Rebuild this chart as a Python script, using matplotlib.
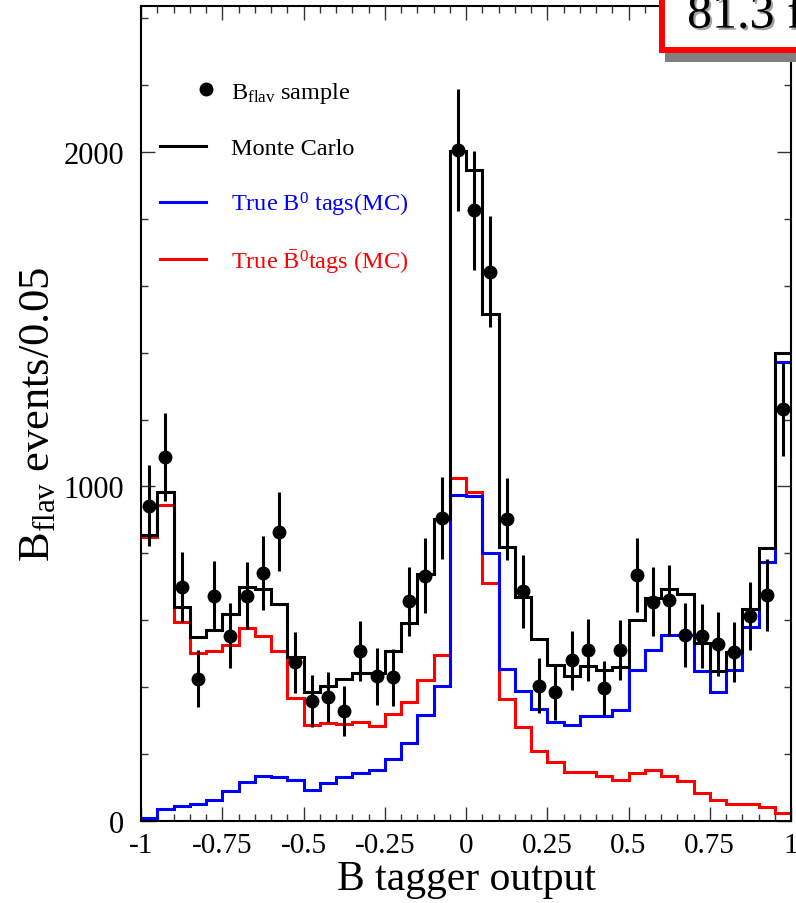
import numpy as np
import matplotlib
matplotlib.use("Agg")
import matplotlib.pyplot as plt
from matplotlib.patches import Rectangle
from matplotlib.ticker import MultipleLocator, FixedLocator, FixedFormatter
from matplotlib import patheffects

# ---------------- data ----------------
bin_width = 0.05
n_bins = 40
x_edges = np.round(-1 + bin_width * np.arange(n_bins + 1), 3)
x_centers = x_edges[:-1] + bin_width / 2

data_counts = [943, 1087, 699, 425, 672, 554, 674, 741, 865, 474,
               358, 370, 328, 507, 433, 430, 657, 733, 906, 2006,
               1826, 1642, 903, 686, 405, 385, 481, 512, 397, 511,
               735, 656, 661, 556, 552, 529, 506, 612, 676, 1230]
data_errors = [122, 132, 105, 85, 105, 97, 100, 110, 118, 90,
               78, 75, 75, 90, 85, 85, 103, 112, 123, 183,
               178, 166, 122, 108, 82, 82, 88, 93, 80, 91,
               110, 103, 104, 97, 96, 96, 90, 102, 107, 140]
mc_total = [855, 983, 639, 549, 571, 619, 699, 694, 649, 489,
            387, 404, 425, 441, 441, 509, 592, 738, 903, 2004,
            1947, 1516, 820, 671, 544, 466, 434, 462, 452, 459,
            601, 666, 694, 679, 532, 449, 504, 634, 815, 1398]
mc_b0 = [9, 36, 46, 51, 64, 91, 116, 135, 133, 123,
         94, 114, 131, 143, 153, 185, 232, 317, 404, 975,
         970, 801, 454, 388, 335, 295, 287, 315, 315, 332,
         452, 511, 556, 556, 449, 385, 452, 579, 773, 1371]
mc_b0bar = [848, 945, 596, 502, 509, 526, 576, 552, 509, 367,
            287, 292, 289, 295, 285, 320, 355, 422, 497, 1025,
            982, 711, 365, 282, 210, 175, 147, 146, 135, 123,
            143, 152, 135, 121, 84, 63, 51, 51, 41, 24]

x_ticks = [-1, -0.75, -0.5, -0.25, 0, 0.25, 0.5, 0.75, 1]
x_tick_labels = ["-1", "-0.75", "-0.5", "-0.25", "0", "0.25", "0.5", "0.75", "1"]
y_ticks = [0, 1000, 2000]
y_tick_labels = ["0", "1000", "2000"]

legend_labels = ["B$_{\\mathrm{flav}}$ sample", "Monte Carlo",
                 "True B$^{0}$ tags(MC)", "True $\\bar{\\mathrm{B}}^{0}$tags (MC)"]
lumi_text = "81.3 fb$^{-1}$"

# ---------------- style ----------------
plt.rcParams['font.family'] = ['Liberation Serif', 'DejaVu Serif']
plt.rcParams['mathtext.fontset'] = 'custom'
plt.rcParams['mathtext.rm'] = 'Liberation Serif'
plt.rcParams['mathtext.it'] = 'Liberation Serif:italic'
plt.rcParams['mathtext.bf'] = 'Liberation Serif:bold'

W, H = 796, 904
fig = plt.figure(figsize=(W / 100, H / 100), dpi=100)
fig.patch.set_facecolor('white')

ax_left, ax_right, ax_bottom, ax_top = 141, 791, 822, 7
ax = fig.add_axes([ax_left / W, (H - ax_bottom) / H,
                   (ax_right - ax_left) / W, (ax_bottom - ax_top) / H])

lw = 2.2
ax.stairs(mc_b0bar, x_edges, color=(1, 0, 0), lw=lw, baseline=None, zorder=2)
ax.stairs(mc_b0, x_edges, color=(0, 0, 1), lw=lw, baseline=None, zorder=2)
ax.stairs(mc_total, x_edges, color='black', lw=lw, baseline=None, zorder=3)
ax.errorbar(x_centers, data_counts, yerr=data_errors, fmt='o', color='black',
            ms=9, elinewidth=2.2, capsize=0, zorder=5)

ax.set_xlim(-1, 1)
ax.set_ylim(0, 2436)

ax.xaxis.set_major_locator(FixedLocator(x_ticks))
ax.xaxis.set_major_formatter(FixedFormatter(x_tick_labels))
ax.xaxis.set_minor_locator(MultipleLocator(0.05))
ax.yaxis.set_major_locator(FixedLocator(y_ticks))
ax.yaxis.set_major_formatter(FixedFormatter(y_tick_labels))
ax.yaxis.set_minor_locator(MultipleLocator(200))

ax.tick_params(which='both', direction='in', top=True, right=True,
               color='#333333', width=1.0)
ax.tick_params(which='major', length=10)
ax.tick_params(which='minor', length=5)
ax.tick_params(axis='x', which='major', labelsize=21, pad=8)
ax.tick_params(axis='y', which='major', labelsize=22, pad=12)
for s in ax.spines.values():
    s.set_linewidth(1.5)
    s.set_color('black')

ax.set_xlabel("B tagger output", fontsize=30)
ax.xaxis.set_label_coords(0.5, -0.047)
ax.set_ylabel("B$_{\\mathrm{flav}}$ events/0.05", fontsize=32)
ax.yaxis.set_label_coords(-0.128, 0.5)

# ---------------- legend (manual, axes fraction) ----------------
def ax_x(px):
    return (px - ax_left) / (ax_right - ax_left)

def ax_y(py):
    return (ax_bottom - py) / (ax_bottom - ax_top)

rows = [90, 147, 203, 260]
colors = ['black', 'black', (0, 0, 1), (1, 0, 0)]
for i, (row, lab, col) in enumerate(zip(rows, legend_labels, colors)):
    if i == 0:
        ax.plot([ax_x(206)], [ax_y(row)], 'o', color='black', ms=9,
                transform=ax.transAxes, clip_on=False)
    else:
        ax.plot([ax_x(160), ax_x(206)], [ax_y(row), ax_y(row)], '-',
                color=col, lw=lw, transform=ax.transAxes, clip_on=False)
    ax.text(ax_x(231), ax_y(row + 8.5), lab, color=col, fontsize=17.5,
            ha='left', va='baseline', transform=ax.transAxes)

# ---------------- luminosity box ----------------
shadow = Rectangle((665 / W, (H - 63) / H), 200 / W, 40 / H,
                   transform=fig.transFigure, facecolor='#808080',
                   edgecolor='none', zorder=10)
box = Rectangle((662 / W, (H - 50.5) / H), 200 / W, 80 / H,
                transform=fig.transFigure, facecolor='white',
                edgecolor=(1, 0, 0), lw=4.3, zorder=11)
fig.add_artist(shadow)
fig.add_artist(box)
fig.text(687 / W, (H - 29) / H, lumi_text, fontsize=36, color='black',
         ha='left', va='baseline', zorder=13,
         path_effects=[patheffects.SimplePatchShadow(offset=(1.5, -1.5),
                                                     shadow_rgbFace='#888888',
                                                     alpha=0.8),
                       patheffects.Normal()])

fig.savefig("out.png", dpi=100)
